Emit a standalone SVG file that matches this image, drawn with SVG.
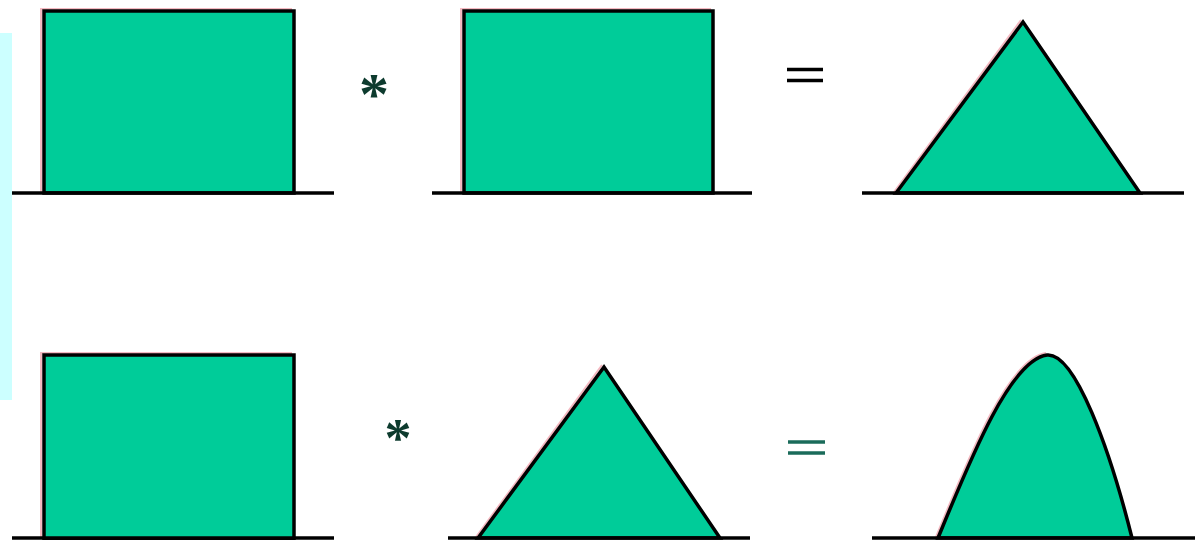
<svg xmlns="http://www.w3.org/2000/svg" width="1201" height="540" viewBox="0 0 1201 540">
<style>
.shape{fill:#00cc99;stroke:#000;stroke-width:3.5;stroke-linejoin:miter}
.shadow{fill:none;stroke:#f4b8c0;stroke-width:2}
.base{stroke:#000;stroke-width:3.5;fill:none}
.op{font-family:"Liberation Serif",serif;text-anchor:middle}
</style>
<rect x="0" y="33" width="12" height="367" fill="#ccffff"/>
<g id="row1-rect1">
<path class="shadow" d="M41,193 V9 H292"/>
<path class="shape" d="M44,193 V11 H294 V193 Z"/>
</g>
<g id="row1-rect2">
<path class="shadow" d="M461,193 V9 H711"/>
<path class="shape" d="M464,193 V11 H713 V193 Z"/>
</g>
<g id="row1-tri">
<path class="shadow" d="M894,192 L1021,20"/>
<path class="shape" d="M896,193 L1023,22 L1140,193 Z"/>
</g>
<g id="row2-rect1">
<path class="shadow" d="M41,538 V353 H292"/>
<path class="shape" d="M44,540 V355 H294 V540 Z"/>
</g>
<g id="row2-tri">
<path class="shadow" d="M476,537 L602,365"/>
<path class="shape" d="M478,538 L604,367 L720,538 Z"/>
</g>
<g id="row2-bell">
<path class="shadow" d="M936,537 C968,459 1008,358 1046,353"/>
<path class="shape" d="M938,538 C970,460 1010,360 1047,355 C1075,352 1110,450 1132,538 Z"/>
</g>
<g id="baselines">
<line class="base" x1="12" y1="193" x2="334" y2="193"/>
<line class="base" x1="432" y1="193" x2="752" y2="193"/>
<line class="base" x1="862" y1="193" x2="1184" y2="193"/>
<line class="base" x1="12" y1="538" x2="334" y2="538"/>
<line class="base" x1="448" y1="538" x2="750" y2="538"/>
<line class="base" x1="872" y1="538" x2="1195" y2="538"/>
</g>
<g id="operators">
<text class="op" x="374" y="114" font-size="60" font-weight="bold" fill="#0d3b2e">*</text>
<text class="op" x="398" y="456" font-size="54" font-weight="bold" fill="#0d3b2e">*</text>
<g stroke="#000" stroke-width="3.5">
<line x1="787" y1="69.5" x2="823" y2="69.5"/>
<line x1="787" y1="80.5" x2="823" y2="80.5"/>
</g>
<g stroke="#1a6b5a" stroke-width="3.5">
<line x1="788" y1="442" x2="825" y2="442"/>
<line x1="788" y1="453" x2="825" y2="453"/>
</g>
</g>
</svg>
